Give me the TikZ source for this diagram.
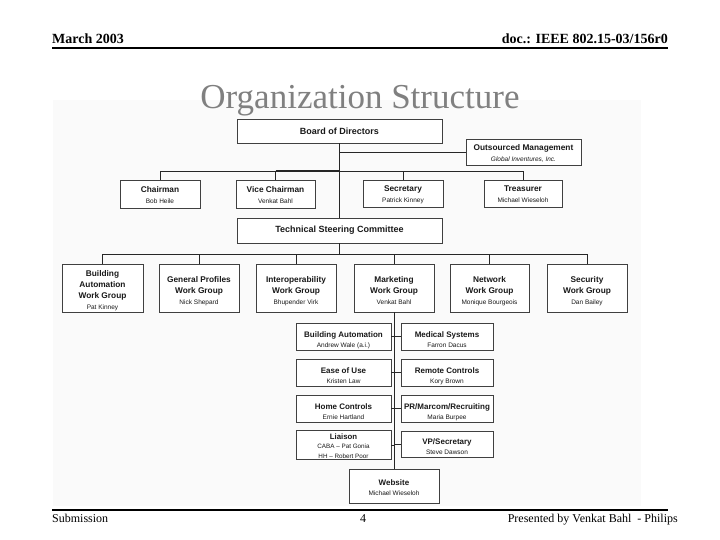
\documentclass[tikz,border=0pt]{standalone}
\usepackage{fontspec}
\setmainfont{Liberation Serif}
\setsansfont{Liberation Sans}
\newcommand\orgT[1]{{\fontsize{8.3}{10.5}\selectfont\bfseries\vphantom{Ag}#1}}
\newcommand\orgS[1]{{\fontsize{8}{10}\selectfont\bfseries\vphantom{Ag}#1}}
\newcommand\orgN[1]{{\fontsize{6.5}{8}\selectfont\vphantom{Ag}#1}}
\newcommand\orgU[1]{\rule{0pt}{#1pt}}
\begin{document}
\begin{tikzpicture}[x=1pt,y=-1pt,
  box/.style={draw=black!75, line width=0.9pt, fill=white, inner sep=0pt, align=center, font=\sffamily\fontsize{8.3}{11}\selectfont, text=black!90},
  sub/.style={box, font=\sffamily\fontsize{8}{10}\selectfont},
  ln/.style={draw=black!85, line width=0.8pt},
  hdr/.style={font=\fontsize{14}{16}\selectfont\bfseries},
  ftr/.style={font=\fontsize{12}{14}\selectfont}]
\useasboundingbox (0,0) rectangle (720,540);
\fill[white] (0,0) rectangle (720,540);
\fill[black!2] (53,100) rectangle (641,506);

% header and footer
\node[hdr, anchor=base west, inner sep=0pt] (hl) at (52,44) {March 2003};
\node[hdr, anchor=base east, inner sep=0pt] (hr) at (668,44) {doc.: IEEE 802.15-03/156r0};
\draw[line width=2pt] (52,48) -- (668,48);
\node[anchor=base, inner sep=0pt, font=\fontsize{35}{40}\selectfont, text=black!50] (title) at (360,109) {Organization Structure};
\draw[line width=2pt] (52,510) -- (668,510);
\node[ftr, anchor=base west, inner sep=0pt] (fl) at (52,522) {Submission};
\node[ftr, anchor=base, inner sep=0pt] (fc) at (363,522) {4};
\node[ftr, anchor=base east, inner sep=0pt] (fr) at (678,522) {Presented by Venkat Bahl\ \ - Philips};

% top level
\node[box, minimum width=205pt, minimum height=24pt] (board) at (339.5,131) {\orgU{3}{\fontsize{9}{11}\selectfont\bfseries Board of Directors}};
\node[box, minimum width=115pt, minimum height=26pt] (outs) at (523.5,152) {\orgU{10}\orgT{Outsourced Management}\\\orgN{\itshape Global Inventures, Inc.}};
\node[box, minimum width=80pt, minimum height=28pt] (chair) at (160,194) {\orgU{9}\orgT{Chairman}\\\orgN{Bob Heile}};
\node[box, minimum width=79pt, minimum height=28pt] (vice) at (275.5,194) {\orgU{9}\orgT{Vice Chairman}\\\orgN{Venkat Bahl}};
\node[box, minimum width=80pt, minimum height=27pt] (sec) at (403,193.5) {\orgU{9}\orgT{Secretary}\\\orgN{Patrick Kinney}};
\node[box, minimum width=78pt, minimum height=27pt] (treas) at (523,193.5) {\orgU{9}\orgT{Treasurer}\\\orgN{Michael Wieseloh}};
\node[box, minimum width=205pt, minimum height=25pt] (tsc) at (339.5,230.5) {\orgU{3}{\fontsize{9}{11}\selectfont\bfseries Technical Steering Committee}};

% work groups
\node[box, font=\sffamily\fontsize{8.3}{11}\selectfont, minimum width=81pt, minimum height=48pt] (ba) at (102.5,288) {\orgU{12}\orgT{Building}\\\orgT{Automation}\\\orgT{Work Group}\\\orgN{Pat Kinney}};
\node[box, minimum width=80pt, minimum height=48pt] (gp) at (199,288) {\orgU{12}\orgT{General Profiles}\\\orgT{Work Group}\\\orgN{Nick Shepard}};
\node[box, minimum width=80pt, minimum height=48pt] (io) at (296,288) {\orgU{12}\orgT{Interoperability}\\\orgT{Work Group}\\\orgN{Bhupender Virk}};
\node[box, minimum width=80pt, minimum height=48pt] (mk) at (394,288) {\orgU{12}\orgT{Marketing}\\\orgT{Work Group}\\\orgN{Venkat Bahl}};
\node[box, minimum width=79pt, minimum height=48pt] (nw) at (489.5,288) {\orgU{12}\orgT{Network}\\\orgT{Work Group}\\\orgN{Monique Bourgeois}};
\node[box, minimum width=80pt, minimum height=48pt] (sc) at (587,288) {\orgU{12}\orgT{Security}\\\orgT{Work Group}\\\orgN{Dan Bailey}};

% marketing sub-groups
\node[sub, minimum width=95pt, minimum height=27pt] (l1) at (343.5,336.5) {\orgU{13}\orgS{Building Automation}\\\orgN{Andrew Wale (a.i.)}};
\node[sub, minimum width=92pt, minimum height=27pt] (r1) at (447,336.5) {\orgU{13}\orgS{Medical Systems}\\\orgN{Farron Dacus}};
\node[sub, minimum width=95pt, minimum height=27pt] (l2) at (343.5,372.5) {\orgU{13}\orgS{Ease of Use}\\\orgN{Kristen Law}};
\node[sub, minimum width=92pt, minimum height=27pt] (r2) at (447,372.5) {\orgU{13}\orgS{Remote Controls}\\\orgN{Kory Brown}};
\node[sub, minimum width=95pt, minimum height=27pt] (l3) at (343.5,408.5) {\orgU{13}\orgS{Home Controls}\\\orgN{Ernie Hartland}};
\node[sub, minimum width=92pt, minimum height=27pt] (r3) at (447,408.5) {\orgU{13}\orgS{PR/Marcom/Recruiting}\\\orgN{Maria Burpee}};
\node[sub, font=\sffamily\fontsize{7.6}{9.3}\selectfont, minimum width=95pt, minimum height=29pt] (l4) at (343.5,445) {\orgU{9}{\fontsize{7.8}{9}\selectfont\bfseries\vphantom{Ag}Liaison}\\{\fontsize{6.3}{8}\selectfont\vphantom{Ag}CABA -- Pat Gonia}\\{\fontsize{6.3}{8}\selectfont\vphantom{Ag}HH -- Robert Poor}};
\node[sub, minimum width=92pt, minimum height=26pt] (r4) at (447,444) {\orgU{13}\orgS{VP/Secretary}\\\orgN{Steve Dawson}};
\node[sub, minimum width=90pt, minimum height=34pt] (web) at (394,486) {\orgU{10}\orgS{Website}\\\orgN{Michael Wieseloh}};

% connectors
\coordinate (b2) at (0,171);
\coordinate (b3) at (0,254);
\draw[ln] (board.south) -- (tsc.north);
\draw[ln] (board.south |- outs.west) -- (outs.west);
\draw[ln] (chair.north) -- (chair.north |- b2) -- (treas.north |- b2) -- (treas.north);
\draw[ln] (vice.north) -- (vice.north |- b2);
\draw[ln] (sec.north) -- (sec.north |- b2);
\draw[ln, line width=1.6pt] (vice.north |- b2) -- (board.south |- b2);
\draw[ln] (tsc.south) -- (tsc.south |- b3);
\draw[ln] (ba.north) -- (ba.north |- b3) -- (sc.north |- b3) -- (sc.north);
\foreach \n in {gp,io,mk,nw} \draw[ln] (\n.north) -- (\n.north |- b3);
\draw[ln] (mk.south) -- (web.north);
\foreach \n in {1,2,3,4} {
  \draw[ln] (l\n.east) -- (l\n.east -| mk.south);
  \draw[ln] (r\n.west) -- (r\n.west -| mk.south);
}
\end{tikzpicture}
\end{document}
